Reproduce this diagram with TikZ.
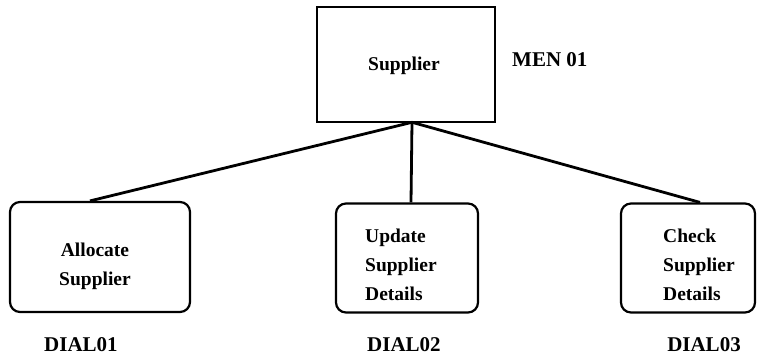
\documentclass[tikz,border=0pt]{standalone}
\usepackage{fontspec}
\setmainfont{Liberation Serif}
\begin{document}
\begin{tikzpicture}[x=1pt,y=-1pt,
  boxtext/.style={font=\fontsize{19.5}{29}\selectfont\bfseries, inner sep=0pt},
  labeltext/.style={font=\fontsize{21}{24}\selectfont\bfseries, inner sep=0pt},
  menubox/.style={draw, line width=2.6pt, minimum width=178pt, minimum height=115pt, inner sep=0pt},
  dialbox/.style={draw, line width=2.2pt, rounded corners=10pt, inner sep=0pt},
  conn/.style={line width=2.8pt}
]
\useasboundingbox (0,0) rectangle (761,360);
\node[menubox] (top) at (406,64.5) {};
\node[boxtext] (toptext) at (404,66) {Supplier};
\node[labeltext, anchor=west] (men) at (512,60) {MEN 01};

\node[dialbox, minimum width=180pt, minimum height=110pt] (left) at (100,257) {};
\node[dialbox, minimum width=142pt, minimum height=109pt] (mid) at (407,258) {};
\node[dialbox, minimum width=134pt, minimum height=109pt] (right) at (688,258) {};

\node[boxtext, align=center] (lefttext) at (95,266) {Allocate\\Supplier};
\node[boxtext, align=left, anchor=west] (midtext) at (365,265) {Update\\Supplier\\Details};
\node[boxtext, align=left, anchor=west] (righttext) at (663,265) {Check\\Supplier\\Details};

\node[labeltext] (d1) at (81,345) {DIAL01};
\node[labeltext] (d2) at (404,345) {DIAL02};
\node[labeltext] (d3) at (704,345) {DIAL03};

\coordinate (apex) at ([xshift=6pt,yshift=1pt]top.south);
\draw[conn] (apex) -- ([xshift=-10pt]left.north);
\draw[conn] (apex) -- ([xshift=4pt]mid.north);
\draw[conn] (apex) -- ([xshift=12pt]right.north);
\end{tikzpicture}
\end{document}
